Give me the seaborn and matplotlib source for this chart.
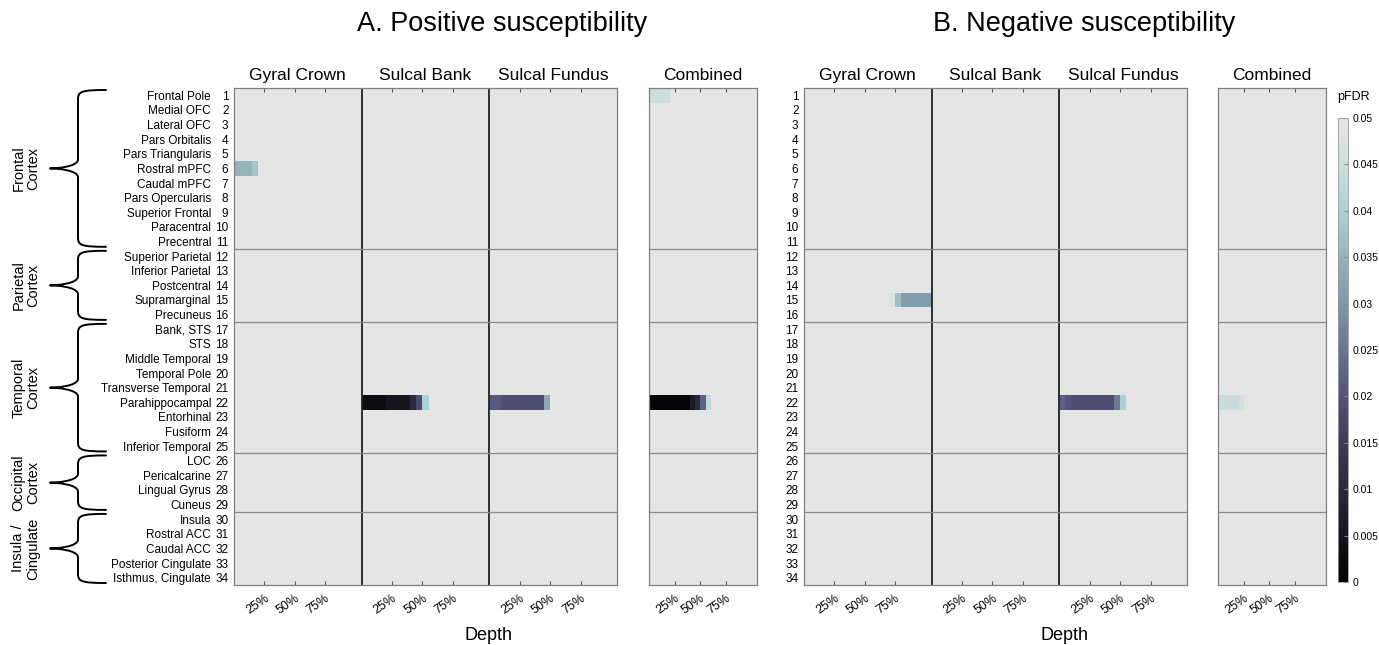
import numpy as np
import pandas as pd
import matplotlib
matplotlib.use("Agg")
import matplotlib.pyplot as plt
import seaborn as sns
from matplotlib.colors import LinearSegmentedColormap
from matplotlib.path import Path
from matplotlib.patches import PathPatch

plt.rcParams['font.family'] = ['Liberation Sans', 'DejaVu Sans']

# ---------------- data ----------------
regions = ["Frontal Pole", "Medial OFC", "Lateral OFC", "Pars Orbitalis", "Pars Triangularis",
           "Rostral mPFC", "Caudal mPFC", "Pars Opercularis", "Superior Frontal", "Paracentral",
           "Precentral", "Superior Parietal", "Inferior Parietal", "Postcentral", "Supramarginal",
           "Precuneus", "Bank, STS", "STS", "Middle Temporal", "Temporal Pole",
           "Transverse Temporal", "Parahippocampal", "Entorhinal", "Fusiform", "Inferior Temporal",
           "LOC", "Pericalcarine", "Lingual Gyrus", "Cuneus", "Insula", "Rostral ACC",
           "Caudal ACC", "Posterior Cingulate", "Isthmus, Cingulate"]
region_ids = list(range(1, 35))
groups = ["Frontal\nCortex", "Parietal\nCortex", "Temporal\nCortex", "Occipital\nCortex",
          "Insula /\nCingulate"]
group_sizes = [11, 5, 9, 4, 5]
surfaces = ["Gyral Crown", "Sulcal Bank", "Sulcal Fundus"]
depths = [f"{d}%" for d in range(0, 101, 5)]          # 21 cortical depths
depth_tick_labels = ["25%", "50%", "75%"]
cbar_ticks = [0, 0.005, 0.01, 0.015, 0.02, 0.025, 0.03, 0.035, 0.04, 0.045, 0.05]
cbar_labels = ["0", "0.005", "0.01", "0.015", "0.02", "0.025", "0.03", "0.035", "0.04", "0.045", "0.05"]

# significant pFDR runs: region id, first depth index, values
pos_crown_region, pos_crown_start = 6, 0
pos_crown_p = [0.035, 0.035, 0.035, 0.038]
pos_bank_region, pos_bank_start = 22, 0
pos_bank_p = [0.003, 0.003, 0.003, 0.003, 0.005, 0.005, 0.005, 0.005, 0.010, 0.018, 0.040]
pos_fundus_region, pos_fundus_start = 22, 0
pos_fundus_p = [0.021, 0.021, 0.019, 0.019, 0.019, 0.019, 0.019, 0.019, 0.019, 0.033]
pos_comb1_region, pos_comb1_start = 1, 0
pos_comb1_p = [0.045, 0.045, 0.045, 0.045]
pos_comb2_region, pos_comb2_start = 22, 0
pos_comb2_p = [0.001, 0.001, 0.001, 0.001, 0.001, 0.001, 0.001, 0.001, 0.006, 0.010, 0.022, 0.043]

neg_crown_region, neg_crown_start = 15, 14
neg_crown_p = [0.048, 0.037, 0.031, 0.031, 0.031, 0.031, 0.031]
neg_fundus_region, neg_fundus_start = 22, 0
neg_fundus_p = [0.022, 0.020, 0.019, 0.019, 0.019, 0.019, 0.019, 0.019, 0.019, 0.026, 0.040]
neg_comb_region, neg_comb_start = 22, 0
neg_comb_p = [0.044, 0.044, 0.044, 0.044, 0.046, 0.049]

# ---------------- build tables ----------------
def blank():
    return np.full((len(regions), len(depths)), 1.0)

def put(mat, region, start, vals):
    mat[region - 1, start:start + len(vals)] = vals
    return mat

posA = [put(blank(), pos_crown_region, pos_crown_start, pos_crown_p),
        put(blank(), pos_bank_region, pos_bank_start, pos_bank_p),
        put(blank(), pos_fundus_region, pos_fundus_start, pos_fundus_p)]
posC = put(put(blank(), pos_comb1_region, pos_comb1_start, pos_comb1_p),
           pos_comb2_region, pos_comb2_start, pos_comb2_p)
negA = [put(blank(), neg_crown_region, neg_crown_start, neg_crown_p),
        blank(),
        put(blank(), neg_fundus_region, neg_fundus_start, neg_fundus_p)]
negC = put(blank(), neg_comb_region, neg_comb_start, neg_comb_p)

def to_df(mats):
    cols = [f"{s}|{d}" for s in surfaces[:len(mats)] for d in depths]
    return pd.DataFrame(np.hstack(mats), index=region_ids, columns=cols)

dfA, dfAc = to_df(posA), pd.DataFrame(posC, index=region_ids, columns=depths)
dfB, dfBc = to_df(negA), pd.DataFrame(negC, index=region_ids, columns=depths)

# ---------------- colormap ----------------
cmap = LinearSegmentedColormap.from_list("pfdr", [
    (0.0, "#000000"), (0.1, "#16151e"), (0.2, "#2a283a"), (0.3, "#3e3b58"),
    (0.4, "#54527a"), (0.5, "#6a7390"), (0.6, "#7f98a6"), (0.7, "#96b2bc"),
    (0.8, "#a9d3d1"), (0.9, "#cfdedd"), (1.0, "#e5e5e5")])

# ---------------- layout ----------------
W, H = 1379, 645
fig = plt.figure(figsize=(W / 100, H / 100), dpi=100)

def px_axes(x0, y0, x1, y1, **kw):
    return fig.add_axes([x0 / W, 1 - y1 / H, (x1 - x0) / W, (y1 - y0) / H], **kw)

bg = px_axes(0, 0, W, H)
bg.set_xlim(0, W); bg.set_ylim(H, 0); bg.axis("off")

axA = px_axes(234, 88, 617, 585)
axAc = px_axes(649, 88, 757, 585)
axB = px_axes(804, 88, 1187, 585)
axBc = px_axes(1218, 88, 1326, 585)
cax = px_axes(1338, 118, 1348, 582)

nd = len(depths)
bounds = np.cumsum(group_sizes)[:-1]

def draw(ax, df, titles, numbers, names, cbar_ax=None):
    sns.heatmap(df, ax=ax, cmap=cmap, vmin=0, vmax=0.05, cbar=cbar_ax is not None,
                cbar_ax=cbar_ax, xticklabels=False, yticklabels=False)
    for s in ax.spines.values():
        s.set_visible(True); s.set_color("#808080"); s.set_linewidth(0.9)
    nb = len(titles)
    ticks, labs = [], []
    for b in range(nb):
        for k, lab in zip((5, 10, 15), depth_tick_labels):
            ticks.append(b * nd + k); labs.append(lab)
    ax.set_xticks(ticks)
    ax.set_xticklabels(labs, rotation=35, ha="right", rotation_mode="anchor", fontsize=9)
    ax.tick_params(axis="x", direction="in", length=3, top=True, bottom=True,
                   color="#555555", pad=5)
    ax.set_xlabel(""); ax.set_ylabel("")
    for b in range(1, nb):
        ax.axvline(b * nd, color="#222222", lw=1.3)
    for y in bounds:
        ax.axhline(y, color="#8a8a8a", lw=0.9)
    for b, t in enumerate(titles):
        ax.annotate(t, xy=(b * nd + nd / 2, 0), xycoords="data", xytext=(0, 9),
                    textcoords="offset points", ha="center", va="center", fontsize=12.5)
    ax.set_yticks(np.arange(len(region_ids)) + 0.5)
    if numbers:
        ax.set_yticklabels([str(i) for i in region_ids], fontsize=8.5, rotation=0)
        ax.tick_params(axis="y", length=0, pad=4)
    else:
        ax.set_yticklabels([])
        ax.tick_params(axis="y", length=0)
    if names:
        for i, n in enumerate(regions):
            ax.annotate(n, xy=(0, i + 0.5), xycoords=("axes fraction", "data"),
                        xytext=(-16.5, 0), textcoords="offset points",
                        ha="right", va="center_baseline", fontsize=8.5)

draw(axA, dfA, surfaces, True, True, cbar_ax=cax)
draw(axAc, dfAc, ["Combined"], False, False)
draw(axB, dfB, surfaces, True, False)
draw(axBc, dfBc, ["Combined"], False, False)

# colorbar
cb = axA.collections[0].colorbar
cb.set_ticks(cbar_ticks)
cb.set_ticklabels(cbar_labels)
cb.outline.set_edgecolor("#999999"); cb.outline.set_linewidth(0.6)
cax.tick_params(direction="in", length=3, color="#888888", labelsize=7.5, pad=3)
fig.text(1337 / W, 1 - 97 / H, "pFDR", ha="left", va="center", fontsize=9)

# titles
fig.text(502 / W, 1 - 24 / H, "A. Positive susceptibility", ha="center", va="center", fontsize=19.5)
fig.text(1084 / W, 1 - 24 / H, "B. Negative susceptibility", ha="center", va="center", fontsize=19.5)
fig.text(488 / W, 1 - 636 / H, "Depth", ha="center", va="center", fontsize=13)
fig.text(1065 / W, 1 - 636 / H, "Depth", ha="center", va="center", fontsize=13)

# braces
def brace(ax, y0, y1, xe=106, xs=78, xt=50):
    ym = (y0 + y1) / 2
    r = min(9, (y1 - y0) / 6)
    verts = [(xe, y0),
             (xs + (xe - xs) * 0.15, y0), (xs, y0 + r * 0.15), (xs, y0 + r),
             (xs, ym - r),
             (xs, ym - r * 0.15), (xt + (xs - xt) * 0.2, ym), (xt, ym),
             (xt + (xs - xt) * 0.2, ym), (xs, ym + r * 0.15), (xs, ym + r),
             (xs, y1 - r),
             (xs, y1 - r * 0.15), (xs + (xe - xs) * 0.15, y1), (xe, y1)]
    codes = [Path.MOVETO] + [Path.CURVE4] * 3 + [Path.LINETO] + [Path.CURVE4] * 6 + \
            [Path.LINETO] + [Path.CURVE4] * 3
    ax.add_patch(PathPatch(Path(verts, codes), fill=False, lw=1.4, color="black",
                           capstyle="round", joinstyle="round"))

top_px, rowh = 88, 497 / len(region_ids)
start = 0
for g, n in zip(groups, group_sizes):
    y0 = top_px + start * rowh + 2
    y1 = top_px + (start + n) * rowh - 2
    brace(bg, y0, y1)
    bg.text(26, (y0 + y1) / 2, g, rotation=90, ha="center", va="center",
            fontsize=10.5, linespacing=1.1, multialignment="center")
    start += n

fig.savefig("out.png", dpi=100)
